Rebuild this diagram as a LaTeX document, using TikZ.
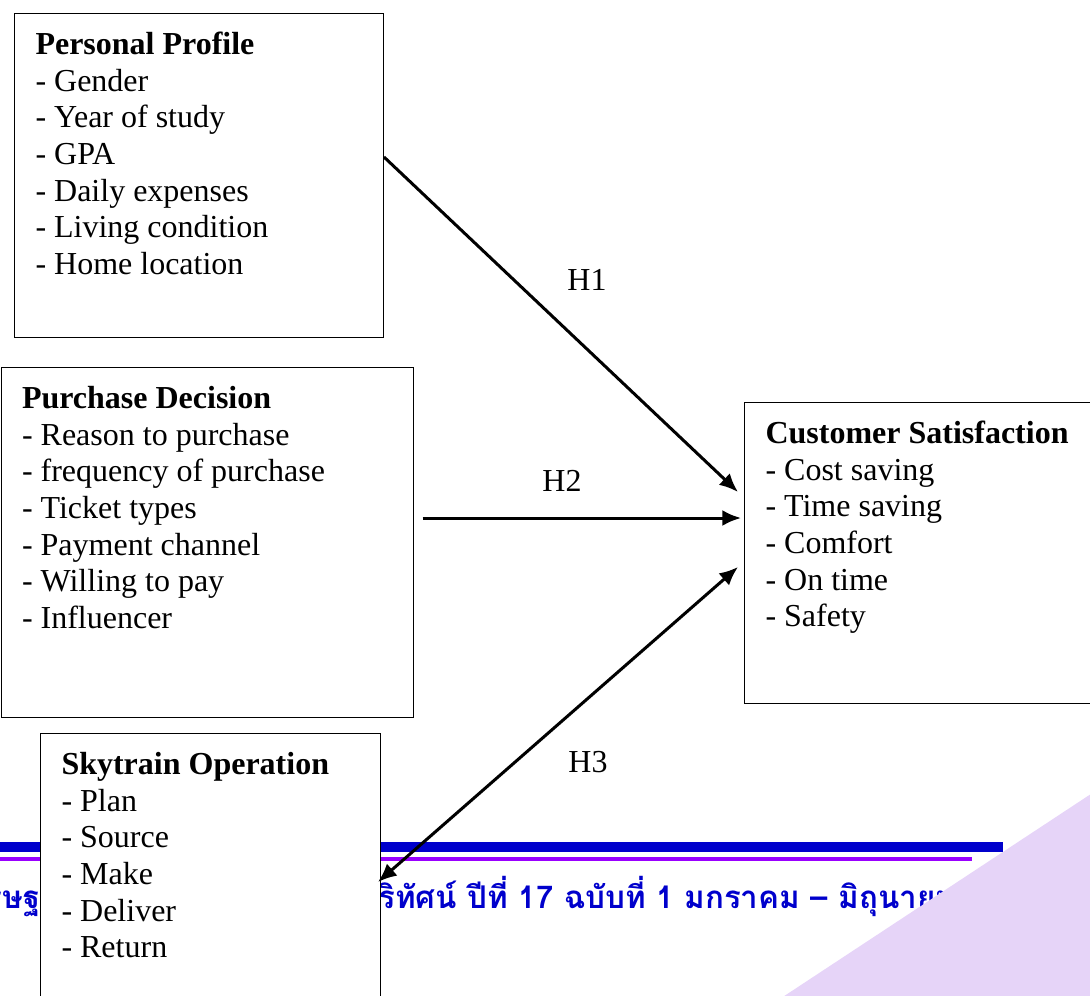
\documentclass[tikz,border=0pt]{standalone}
\usepackage{xcolor}
\usepackage{fontspec}
\setmainfont{Liberation Serif}
\newfontfamily\thaifont[Script=Thai]{Loma}
\usepackage{tikz}
\usetikzlibrary{arrows.meta,calc,positioning}

\definecolor{footblue}{RGB}{0,0,204}
\definecolor{footpurple}{RGB}{153,0,255}
\definecolor{cornerlilac}{RGB}{230,212,248}

\newcommand{\factorbox}[3]{\parbox[c][#2][t]{#1}{\strut #3}}

\begin{document}
\begin{tikzpicture}[
  x = 0.75pt, y = -0.75pt,
  > = {Latex[length=14pt,width=12pt]},
  factor/.style = {rectangle, draw, fill=white, anchor=north west,
                   inner xsep=15.75pt, inner ysep=11.5pt, line width=0.75pt,
                   font=\fontsize{24pt}{27.5pt}\selectfont},
  hyp/.style = {inner sep=0pt, font=\fontsize{24pt}{27.5pt}\selectfont},
  journal/.style = {inner sep=0pt, text=footblue,
                    font=\thaifont\bfseries\fontsize{23.5pt}{28pt}\selectfont},
  link/.style = {line width=2.25pt}
]
\useasboundingbox (0,0) rectangle (1090,996);

% footer band
\draw[footblue, line width=7.5pt] (0,847) -- (1003,847);
\draw[footpurple, line width=3pt] (0,859) -- (972,859);
\node[journal, anchor=base east] (journalL) at (41,908) {รษฐ};
\node[journal, anchor=base west] (journalR) at (378,908)
  {ริทัศน์ ปีที่ 17 ฉบับที่ 1 มกราคม – มิถุนายน};
\fill[cornerlilac] (1100,788) -- (763,1010) -- (1100,1010) -- cycle;

% factors
\node[factor] (profile) at (14,13) {\factorbox{245.25pt}{220pt}{%
  \textbf{Personal Profile}\\- Gender\\- Year of study\\- GPA\\
  - Daily expenses\\- Living condition\\- Home location}};
\node[factor] (purchase) at (0.5,367) {\factorbox{277.5pt}{239.5pt}{%
  \textbf{Purchase Decision}\\- Reason to purchase\\- frequency of purchase\\
  - Ticket types\\- Payment channel\\- Willing to pay\\- Influencer}};
\node[factor] (customer) at (744,402) {\factorbox{238.5pt}{202.75pt}{%
  \textbf{Customer Satisfaction}\\- Cost saving\\- Time saving\\- Comfort\\
  - On time\\- Safety}};
\node[factor] (skytrain) at (40,733) {\factorbox{223.5pt}{194.5pt}{%
  \textbf{Skytrain Operation}\\- Plan\\- Source\\- Make\\- Deliver\\- Return}};

% hypotheses
\draw[link, ->] ($(profile.north east)+(0,144)$) -- ($(customer.north west)+(-6,90)$);
\draw[link, ->] ($(purchase.north east)+(9,151)$) -- ($(customer.north west)+(-3,116)$);
\draw[link, <->] ($(customer.north west)+(-6,165)$) -- ($(skytrain.north east)+(-3,149)$);

\node[hyp] (h1) at (587,280) {H1};
\node[hyp] (h2) at (562,481) {H2};
\node[hyp] (h3) at (588,762) {H3};
\end{tikzpicture}
\end{document}
